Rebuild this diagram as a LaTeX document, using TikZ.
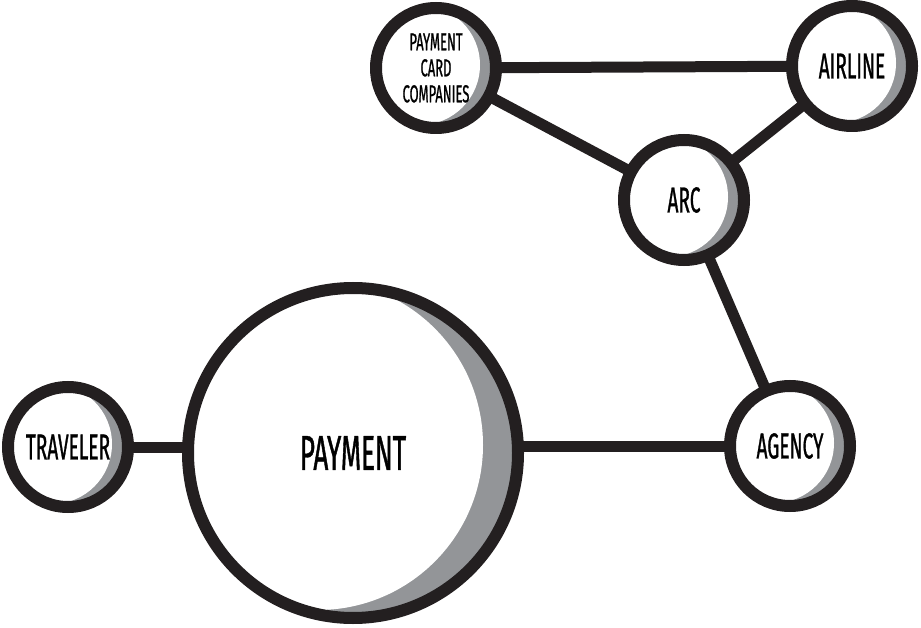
\documentclass[tikz,border=0pt]{standalone}
\usepackage{fontspec}
\setmainfont{Fira Sans}[FakeStretch=0.53, FakeBold=0.8]
\usetikzlibrary{calc,backgrounds}
\definecolor{ink}{HTML}{231F20}
\definecolor{moongray}{HTML}{939598}
\begin{document}
\begin{tikzpicture}[x=1pt,y=-1pt,
  ball/.style={circle, draw=ink, line width=12pt, fill=white, inner sep=0pt,
    minimum size=#1, text=black, align=center},
  moon/.style 2 args={path picture={
    \fill[moongray] (path picture bounding box.south west) rectangle (path picture bounding box.north east);
    \fill[white] ($(path picture bounding box.center)+(#1)$) circle[radius=#2];}},
  small/.style={ball=120pt, moon={-16,-3}{60pt}, font=\fontsize{36}{36}\selectfont},
  big/.style={ball=330pt, moon={-35,-8}{165pt}, font=\fontsize{49}{49}\selectfont},
  link/.style={draw=ink, line width=11pt}
]
\useasboundingbox (0,0) rectangle (921,628);

\node[small, font=\fontsize{24.5}{26}\selectfont] (pcc) at (436,68) {PAYMENT\\CARD\\COMPANIES};
\node[small] (airline) at (852,66) {AIRLINE};
\node[small] (arc) at (684,200) {ARC};
\node[small] (traveler) at (68,447) {TRAVELER};
\node[big] (payment) at (353,453) {PAYMENT};
\node[small] (agency) at (790,446) {AGENCY};

\begin{scope}[on background layer]
\draw[link] (pcc.center) -- (airline.center);
\draw[link] (pcc.center) -- (arc.center);
\draw[link] (airline.center) -- (arc.center);
\draw[link] (arc.center) -- (agency.center);
\draw[link] (traveler.center) -- (traveler.center -| payment.center);
\draw[link] (agency.center) -- (agency.center -| payment.center);
\end{scope}
\end{tikzpicture}
\end{document}
